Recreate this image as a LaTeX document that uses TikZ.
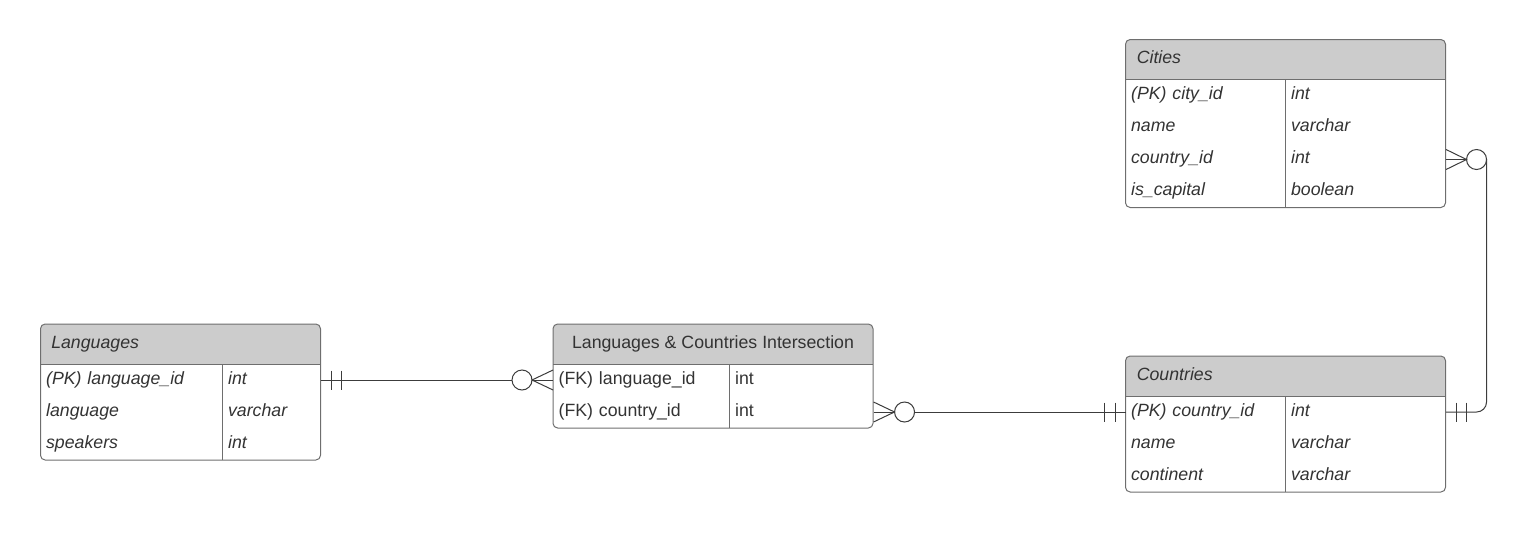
\documentclass[tikz,border=0pt]{standalone}
\usepackage{fontspec}
\setmainfont{Liberation Sans}
\usetikzlibrary{calc}
\definecolor{boxgray}{RGB}{110,110,110}
\definecolor{headgray}{RGB}{204,204,204}
\definecolor{txtgray}{RGB}{51,51,51}
\definecolor{linegray}{RGB}{60,60,60}

\begin{document}
\begin{tikzpicture}[x=0.75pt,y=0.75pt,yscale=-1,xscale=1,
	tablebox/.style={draw=boxgray, line width=0.75pt, rounded corners=3.5pt},
	rule/.style={draw=boxgray, line width=0.75pt},
	headcell/.style={anchor=west, inner sep=0pt, text height=9.5pt, text depth=2.8pt, text=txtgray, font=\fontsize{13.3}{15}\selectfont\itshape},
	cell/.style={anchor=west, inner xsep=4pt, inner ysep=0pt, text height=9.5pt, text depth=2.8pt, align=left, text=txtgray, font=\fontsize{13.3}{15}\selectfont\itshape},
	plaincell/.style={cell, font=\fontsize{13.3}{15}\selectfont},
	conn/.style={draw=linegray, line width=0.75pt},
	]
	\useasboundingbox (0,0) rectangle (1527,532);

	% Cities
	\begin{scope}
		\clip[rounded corners=3.5pt] (1125.5,39.5) rectangle (1445.5,207.5);
		\fill[headgray] (1125.5,39.5) rectangle (1445.5,79.5);
	\end{scope}
	\draw[tablebox] (1125.5,39.5) rectangle (1445.5,207.5);
	\draw[rule] (1125.5,79.5) -- (1445.5,79.5);
	\draw[rule] (1285.5,79.5) -- (1285.5,207.5);
	\node[headcell] (citiesHead) at (1136.5,59.5) {Cities};
	\node[cell, text width=112pt] (citiesName1) at (1125.5,95.5) {(PK) city\_id};
	\node[cell, text width=112pt] (citiesType1) at (1285.5,95.5) {int};
	\node[cell, text width=112pt] (citiesName2) at (1125.5,127.5) {name};
	\node[cell, text width=112pt] (citiesType2) at (1285.5,127.5) {varchar};
	\node[cell, text width=112pt] (citiesName3) at (1125.5,159.5) {country\_id};
	\node[cell, text width=112pt] (citiesType3) at (1285.5,159.5) {int};
	\node[cell, text width=112pt] (citiesName4) at (1125.5,191.5) {is\_capital};
	\node[cell, text width=112pt] (citiesType4) at (1285.5,191.5) {boolean};

	% Languages
	\begin{scope}
		\clip[rounded corners=3.5pt] (40.5,324) rectangle (320.5,460);
		\fill[headgray] (40.5,324) rectangle (320.5,364);
	\end{scope}
	\draw[tablebox] (40.5,324) rectangle (320.5,460);
	\draw[rule] (40.5,364) -- (320.5,364);
	\draw[rule] (222.5,364) -- (222.5,460);
	\node[headcell] (langHead) at (51,344) {Languages};
	\node[cell, text width=128.5pt] (langName1) at (40.5,380) {(PK) language\_id};
	\node[cell, text width=65.5pt] (langType1) at (222.5,380) {int};
	\node[cell, text width=128.5pt] (langName2) at (40.5,412) {language};
	\node[cell, text width=65.5pt] (langType2) at (222.5,412) {varchar};
	\node[cell, text width=128.5pt] (langName3) at (40.5,444) {speakers};
	\node[cell, text width=65.5pt] (langType3) at (222.5,444) {int};

	% Languages & Countries Intersection
	\begin{scope}
		\clip[rounded corners=3.5pt] (553,324) rectangle (873,428);
		\fill[headgray] (553,324) rectangle (873,364);
	\end{scope}
	\draw[tablebox] (553,324) rectangle (873,428);
	\draw[rule] (553,364) -- (873,364);
	\draw[rule] (729.5,364) -- (729.5,428);
	\node[headcell, anchor=center, font=\fontsize{13.3}{15}\selectfont] (interHead) at (713,344) {Languages \& Countries Intersection};
	\node[plaincell, text width=124.375pt] (interName1) at (553,380) {(FK) language\_id};
	\node[plaincell, text width=99.625pt] (interType1) at (729.5,380) {int};
	\node[plaincell, text width=124.375pt] (interName2) at (553,412) {(FK) country\_id};
	\node[plaincell, text width=99.625pt] (interType2) at (729.5,412) {int};

	% Countries
	\begin{scope}
		\clip[rounded corners=3.5pt] (1125.5,356) rectangle (1445.5,492);
		\fill[headgray] (1125.5,356) rectangle (1445.5,396);
	\end{scope}
	\draw[tablebox] (1125.5,356) rectangle (1445.5,492);
	\draw[rule] (1125.5,396) -- (1445.5,396);
	\draw[rule] (1285.5,396) -- (1285.5,492);
	\node[headcell] (countryHead) at (1136.5,376) {Countries};
	\node[cell, text width=112pt] (countryName1) at (1125.5,412) {(PK) country\_id};
	\node[cell, text width=112pt] (countryType1) at (1285.5,412) {int};
	\node[cell, text width=112pt] (countryName2) at (1125.5,444) {name};
	\node[cell, text width=112pt] (countryType2) at (1285.5,444) {varchar};
	\node[cell, text width=112pt] (countryName3) at (1125.5,476) {continent};
	\node[cell, text width=112pt] (countryType3) at (1285.5,476) {varchar};

	% Languages -> Intersection
	\draw[conn] (langType1.east) -- ($(interName1.west)+(-41,0)$);
	\draw[conn] ($(langType1.east)+(10,-9.5)$) -- ++(0,19);
	\draw[conn] ($(langType1.east)+(20.5,-9.5)$) -- ++(0,19);
	\draw[conn] ($(interName1.west)+(-31,0)$) circle[radius=7.5pt];
	\draw[conn] ($(interName1.west)+(0,-10)$) -- ($(interName1.west)+(-21,0)$) -- ($(interName1.west)+(0,10)$);
	\draw[conn] ($(interName1.west)+(-21,0)$) -- (interName1.west);

	% Intersection -> Countries
	\draw[conn] ($(interType2.east)+(41,0)$) -- (countryName1.west);
	\draw[conn] ($(interType2.east)+(0,-10)$) -- ($(interType2.east)+(21,0)$) -- ($(interType2.east)+(0,10)$);
	\draw[conn] (interType2.east) -- ($(interType2.east)+(21,0)$);
	\draw[conn] ($(interType2.east)+(31,0)$) circle[radius=7.5pt];
	\draw[conn] ($(countryName1.west)+(-21,-9.5)$) -- ++(0,19);
	\draw[conn] ($(countryName1.west)+(-10,-9.5)$) -- ++(0,19);

	% Cities -> Countries
	\draw[conn] ($(citiesType3.east)+(0,-10)$) -- ($(citiesType3.east)+(20.5,0)$) -- ($(citiesType3.east)+(0,10)$);
	\draw[conn] (citiesType3.east) -- ($(citiesType3.east)+(20.5,0)$);
	\draw[conn] ($(citiesType3.east)+(30.5,0)$) circle[radius=7.5pt];
	\draw[conn, rounded corners=7.5pt] ($(citiesType3.east)+(40.5,0)$) |- (countryType1.east);
	\draw[conn] ($(countryType1.east)+(10,-9.5)$) -- ++(0,19);
	\draw[conn] ($(countryType1.east)+(20.5,-9.5)$) -- ++(0,19);
\end{tikzpicture}
\end{document}
